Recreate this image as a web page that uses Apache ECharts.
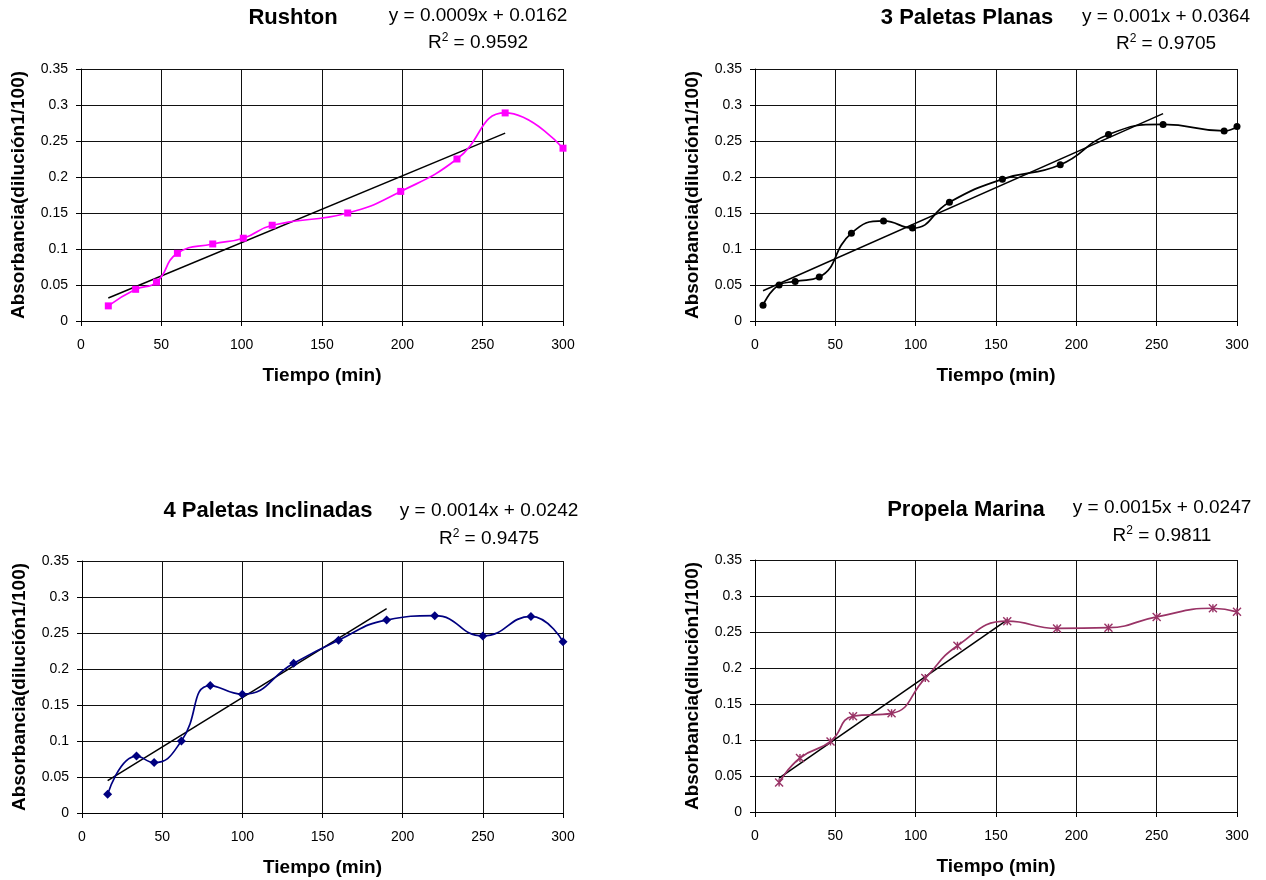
<!DOCTYPE html>
<html>
<head>
<meta charset="utf-8">
<script src="https://cdn.jsdelivr.net/npm/echarts@6/dist/echarts.min.js"></script>
<style>
html,body{margin:0;padding:0;background:#fff;}
#chart{width:1266px;height:880px;}
</style>
</head>
<body>
<div id="chart"></div>
<script>
// ---- data ----
const xTicks = [0, 50, 100, 150, 200, 250, 300];
const yTicks = [0, 0.05, 0.1, 0.15, 0.2, 0.25, 0.3, 0.35];

const titles = ['Rushton', '3 Paletas Planas', '4 Paletas Inclinadas', 'Propela Marina'];
const equations = ['y = 0.0009x + 0.0162', 'y = 0.001x + 0.0364', 'y = 0.0014x + 0.0242', 'y = 0.0015x + 0.0247'];
const r2Values = ['0.9592', '0.9705', '0.9475', '0.9811'];

const rushtonX = [17, 34, 47, 60, 82, 101, 119, 166, 199, 234, 264, 300];
const rushtonY = [0.021, 0.044, 0.054, 0.094, 0.107, 0.115, 0.133, 0.150, 0.180, 0.225, 0.289, 0.240];
const rushtonTrendX = [17, 264];
const rushtonTrendY = [0.032, 0.261];

const planasX = [5, 15, 25, 40, 60, 80, 98, 121, 154, 190, 220, 254, 292, 300];
const planasY = [0.022, 0.050, 0.055, 0.061, 0.122, 0.139, 0.129, 0.165, 0.197, 0.217, 0.259, 0.273, 0.264, 0.270];
const planasTrendX = [5, 254];
const planasTrendY = [0.042, 0.288];

const inclinadasX = [16, 34, 45, 62, 80, 100, 132, 160, 190, 220, 250, 280, 300];
const inclinadasY = [0.026, 0.079, 0.070, 0.100, 0.177, 0.165, 0.208, 0.240, 0.268, 0.274, 0.246, 0.273, 0.238];
const inclinadasTrendX = [16, 190];
const inclinadasTrendY = [0.045, 0.284];

const marinaX = [15, 28, 47, 61, 85, 106, 126, 157, 188, 220, 250, 285, 300];
const marinaY = [0.041, 0.075, 0.098, 0.133, 0.137, 0.186, 0.231, 0.265, 0.255, 0.256, 0.271, 0.283, 0.278];
const marinaTrendX = [15, 157];
const marinaTrendY = [0.047, 0.267];

// ---- build chart ----
const FONT = "'Liberation Sans', Arial, sans-serif";
const zip = (xs, ys) => xs.map((x, i) => [x, ys[i]]);

const panels = [
  {grid: {left: 81, top: 69, width: 482, height: 252}, title: [293, 18], eq: [478, 16, 42],
   x: rushtonX, y: rushtonY, tx: rushtonTrendX, ty: rushtonTrendY, color: '#FF00FF', symbol: 'rect', size: 7},
  {grid: {left: 755, top: 69, width: 482, height: 252}, title: [967, 18], eq: [1166, 17, 43],
   x: planasX, y: planasY, tx: planasTrendX, ty: planasTrendY, color: '#000000', symbol: 'circle', size: 7},
  {grid: {left: 82, top: 561, width: 481, height: 252}, title: [268, 511], eq: [489, 511, 538],
   x: inclinadasX, y: inclinadasY, tx: inclinadasTrendX, ty: inclinadasTrendY, color: '#000080', symbol: 'diamond', size: 9},
  {grid: {left: 755, top: 560, width: 482, height: 252}, title: [966, 510], eq: [1162, 508, 535],
   x: marinaX, y: marinaY, tx: marinaTrendX, ty: marinaTrendY, color: '#993366',
   symbol: 'path://M0,0L10,10M10,0L0,10M5,0L5,10', size: 8}
];

const grids = [], xAxes = [], yAxes = [], series = [], graphics = [];
panels.forEach((p, i) => {
  grids.push(p.grid);
  xAxes.push({
    type: 'value', gridIndex: i,
    min: xTicks[0], max: xTicks[xTicks.length - 1], interval: xTicks[1] - xTicks[0],
    name: 'Tiempo (min)', nameLocation: 'middle', nameGap: 45,
    nameTextStyle: {fontFamily: FONT, fontSize: 19, fontWeight: 'bold', color: '#000'},
    axisLine: {show: true, lineStyle: {color: '#000', width: 1}},
    axisTick: {show: true, inside: false, length: 5, lineStyle: {color: '#000'}},
    axisLabel: {fontFamily: FONT, fontSize: 14, color: '#000', margin: 17},
    splitLine: {show: true, lineStyle: {color: '#111', width: 1}}
  });
  yAxes.push({
    type: 'value', gridIndex: i,
    min: yTicks[0], max: yTicks[yTicks.length - 1], interval: yTicks[1] - yTicks[0],
    name: 'Absorbancia(dilución1/100)', nameLocation: 'middle', nameGap: 53,
    nameTextStyle: {fontFamily: FONT, fontSize: 19, fontWeight: 'bold', color: '#000'},
    axisLine: {show: true, lineStyle: {color: '#000', width: 1}},
    axisTick: {show: true, inside: false, length: 5, lineStyle: {color: '#000'}},
    axisLabel: {fontFamily: FONT, fontSize: 14, color: '#000', margin: 13,
      formatter: v => String(Math.round(v * 100) / 100)},
    splitLine: {show: true, lineStyle: {color: '#111', width: 1}}
  });
  const isPath = p.symbol.indexOf('path://') === 0;
  series.push({
    type: 'line', xAxisIndex: i, yAxisIndex: i,
    data: zip(p.x, p.y), smooth: 0.5,
    symbol: p.symbol, symbolSize: p.size, showSymbol: true,
    lineStyle: {color: p.color, width: 1.7},
    itemStyle: isPath ? {color: 'none', borderColor: p.color, borderWidth: 1.4} : {color: p.color, borderWidth: 0},
    emphasis: {disabled: true}, animation: false, z: 3
  });
  series.push({
    type: 'line', xAxisIndex: i, yAxisIndex: i,
    data: zip(p.tx, p.ty), symbol: 'none',
    lineStyle: {color: '#000', width: 1.5},
    emphasis: {disabled: true}, animation: false, z: 2
  });
  graphics.push({type: 'text', x: p.title[0], y: p.title[1],
    style: {text: titles[i], align: 'center', verticalAlign: 'middle',
      fontFamily: FONT, fontSize: 22, fontWeight: 'bold', fill: '#000'}});
  graphics.push({type: 'text', x: p.eq[0], y: p.eq[1],
    style: {text: equations[i], align: 'center', verticalAlign: 'middle',
      fontFamily: FONT, fontSize: 19, fill: '#000'}});
  graphics.push({type: 'text', x: p.eq[0], y: p.eq[2],
    style: {text: '{n|R}{s|2}{n| = ' + r2Values[i] + '}', align: 'center', verticalAlign: 'middle',
      fontFamily: FONT, fontSize: 19, fill: '#000',
      rich: {
        n: {fontFamily: FONT, fontSize: 19, fill: '#000', verticalAlign: 'bottom'},
        s: {fontFamily: FONT, fontSize: 12, fill: '#000', verticalAlign: 'top', padding: [0, 0, 8, 0]}
      }}});
});

const chart = echarts.init(document.getElementById('chart'), null, {renderer: 'canvas'});
chart.setOption({
  animation: false,
  backgroundColor: '#fff',
  grid: grids, xAxis: xAxes, yAxis: yAxes, series: series,
  graphic: graphics
});
</script>
</body>
</html>
